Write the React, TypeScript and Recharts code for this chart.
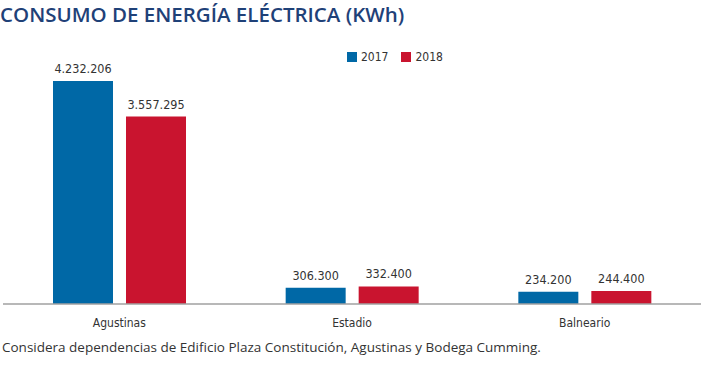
import { BarChart, Bar, XAxis, YAxis, LabelList } from "recharts";

const categories = ["Agustinas", "Estadio", "Balneario"];
const values2017 = [4232206, 306300, 234200];
const values2018 = [3557295, 332400, 244400];
const seriesNames = ["2017", "2018"];

const BLUE = "#0068a6";
const RED = "#c9142f";
const TEXT = "#333333";
const NARROW = "'DejaVu Sans Condensed', 'DejaVu Sans', sans-serif";
const seriesColors = [BLUE, RED];

const data = categories.map((name, i) => ({
  name,
  y2017: values2017[i],
  y2018: values2018[i],
}));

const fmt = (v: number) => v.toLocaleString("de-DE");

export default function App() {
  return (
    <div
      style={{
        position: "absolute",
        top: 0,
        left: 0,
        width: 704,
        height: 373,
        background: "#fff",
        overflow: "hidden",
      }}
    >
      <div
        style={{
          position: "absolute",
          top: 0,
          left: 0,
          fontFamily: "'Open Sans', sans-serif",
          fontSize: 20.5,
          fontWeight: 600,
          color: "#1f4178",
          whiteSpace: "nowrap",
        }}
      >
        CONSUMO DE ENERGÍA ELÉCTRICA (KWh)
      </div>
      {/* legend */}
      <div
        style={{
          position: "absolute",
          top: 50,
          left: 347,
          display: "flex",
          alignItems: "center",
          fontFamily: NARROW,
          fontStretch: "condensed",
          fontSize: 12,
          color: TEXT,
        }}
      >
        {seriesNames.map((s, i) => (
          <div key={s} style={{ display: "flex", alignItems: "center", marginRight: 13 }}>
            <span
              style={{
                display: "inline-block",
                width: 10,
                height: 10,
                background: seriesColors[i],
                marginRight: 4,
              }}
            />
            {s}
          </div>
        ))}
      </div>
      <BarChart
        width={704}
        height={373}
        data={data}
        margin={{ top: 81, right: 3, bottom: 39, left: 3 }}
        barCategoryGap={50}
        barGap={13}
      >
        <XAxis
          dataKey="name"
          tickLine={false}
          axisLine={{ stroke: "#a0a0a0", strokeWidth: 1.5 }}
          tick={{ fill: TEXT, fontSize: 12, fontFamily: NARROW, fontStretch: "condensed" }}
          tickMargin={8}
          height={30}
        />
        <YAxis hide domain={[0, 4232206]} />
        <Bar dataKey="y2017" name={seriesNames[0]} fill={BLUE} isAnimationActive={false}>
          <LabelList
            dataKey="y2017"
            position="top"
            offset={8}
            formatter={(v: any) => fmt(Number(v))}
            style={{ fill: TEXT, fontSize: 12.5, fontFamily: NARROW, fontStretch: "condensed" }}
          />
        </Bar>
        <Bar dataKey="y2018" name={seriesNames[1]} fill={RED} isAnimationActive={false}>
          <LabelList
            dataKey="y2018"
            position="top"
            offset={8}
            formatter={(v: any) => fmt(Number(v))}
            style={{ fill: TEXT, fontSize: 12.5, fontFamily: NARROW, fontStretch: "condensed" }}
          />
        </Bar>
      </BarChart>
      <div
        style={{
          position: "absolute",
          top: 338,
          left: 2,
          fontFamily: "'Open Sans', sans-serif",
          fontSize: 13.5,
          color: TEXT,
          whiteSpace: "nowrap",
        }}
      >
        Considera dependencias de Edificio Plaza Constitución, Agustinas y Bodega Cumming.
      </div>
    </div>
  );
}
